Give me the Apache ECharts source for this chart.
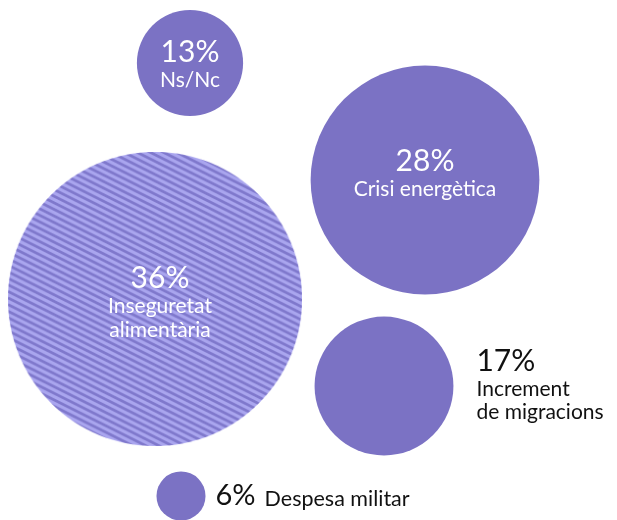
<!DOCTYPE html>
<html>
<head>
<meta charset="utf-8">
<script src="https://cdn.jsdelivr.net/npm/echarts@6/dist/echarts.min.js"></script>
<style>
html,body{margin:0;padding:0;background:#fff;}
#chart{width:617px;height:520px;}
</style>
</head>
<body>
<div id="chart"></div>
<script>
// Data
const categories = ['Ns/Nc', 'Crisi energètica', 'Inseguretat alimentària', 'Increment de migracions', 'Despesa militar'];
const labelLines = [['Ns/Nc'], ['Crisi energètica'], ['Inseguretat', 'alimentària'], ['Increment', 'de migracions'], ['Despesa militar']];
const values = [13, 28, 36, 17, 6];
// bubble layout (axis units)
const posX = [190, 425, 155, 384, 181];
const posY = [63, 180, 299, 386, 496];

const purple = '#7b72c4';
const font = 'Lato, "Noto Sans", sans-serif';

// striped circle image for the largest bubble
function stripedCircle() {
  const S = 600;
  const c = document.createElement('canvas');
  c.width = S; c.height = S;
  const ctx = c.getContext('2d');
  ctx.beginPath();
  ctx.arc(S / 2, S / 2, S / 2, 0, Math.PI * 2);
  ctx.closePath();
  ctx.clip();
  ctx.fillStyle = '#aaa6ef';
  ctx.fillRect(0, 0, S, S);
  ctx.strokeStyle = '#7f78cc';
  ctx.lineWidth = 5.5;
  const P = 13.4;
  for (let k = -S; k < S * 1.6; k += P) {
    ctx.beginPath();
    ctx.moveTo(0, k);
    ctx.lineTo(S, k + S * 0.5);
    ctx.stroke();
  }
  return c.toDataURL();
}

const chart = echarts.init(document.getElementById('chart'));

const rich = {
  pw: { fontSize: 30, lineHeight: 33, color: '#fff', fontFamily: font },
  nw: { fontSize: 21, lineHeight: 24, color: '#fff', fontFamily: font },
  pb: { fontSize: 30, lineHeight: 33, color: '#111', fontFamily: font },
  nb: { fontSize: 21, lineHeight: 23, color: '#111', fontFamily: font },
  pbs: { fontSize: 29, lineHeight: 33, color: '#111', fontFamily: font, padding: [0, 9, 0, 0] },
  nbs: { fontSize: 21.5, lineHeight: 27, color: '#111', fontFamily: font, padding: [6, 0, 0, 0] }
};

const labelCfg = [
  { position: 'inside', offset: [0, 1], align: 'center', white: true },
  { position: 'inside', offset: [0, -7], align: 'center', white: true },
  { position: 'inside', offset: [5, 3], align: 'center', white: true },
  { position: 'right', distance: 23, offset: [0, -2], align: 'left', white: false },
  { position: 'right', distance: 10, offset: [0, 0], align: 'left', white: false, inline: true }
];

const stripedImg = stripedCircle();

const data = values.map((v, i) => {
  const cfg = labelCfg[i];
  let fmt;
  if (cfg.inline) {
    fmt = '{pbs|' + v + '%}{nbs|' + labelLines[i].join(' ') + '}';
  } else if (cfg.white) {
    fmt = ['{pw|' + v + '%}'].concat(labelLines[i].map(s => '{nw|' + s + '}')).join('\n');
  } else {
    fmt = ['{pb|' + v + '%}'].concat(labelLines[i].map(s => '{nb|' + s + '}')).join('\n');
  }
  const item = {
    name: categories[i],
    value: [posX[i], posY[i], v],
    symbolSize: v * 8.17,
    label: {
      show: true,
      position: cfg.position,
      distance: cfg.distance || 0,
      offset: cfg.offset,
      align: cfg.align,
      formatter: fmt,
      rich: rich
    }
  };
  if (i === 2) {
    item.symbol = 'image://' + stripedImg;
  }
  return item;
});

chart.setOption({
  animation: false,
  backgroundColor: '#fff',
  grid: { left: 0, top: 0, width: 617, height: 520 },
  xAxis: { type: 'value', min: 0, max: 617, show: false },
  yAxis: { type: 'value', min: 0, max: 520, inverse: true, show: false },
  series: [{
    type: 'scatter',
    symbol: 'circle',
    itemStyle: { color: purple, opacity: 1 },
    emphasis: { disabled: true },
    data: data
  }]
});
</script>
</body>
</html>
